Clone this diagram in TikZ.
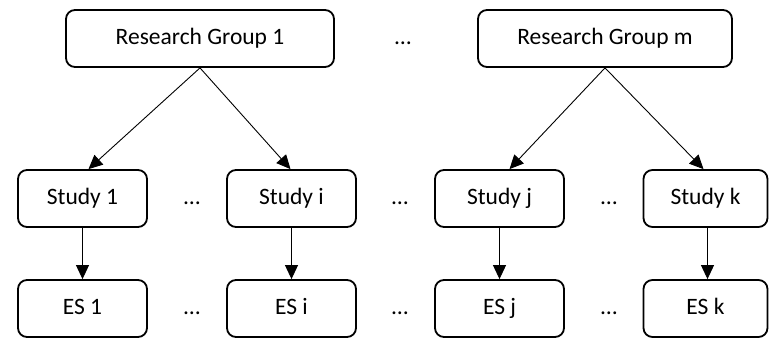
\documentclass[tikz,border=0pt]{standalone}
\usepackage{fontspec}
\setmainfont{Carlito}
\usetikzlibrary{arrows.meta,calc}
\begin{document}
\begin{tikzpicture}[x=1pt,y=-1pt,
  box/.style={draw=black,line width=1.8pt,rounded corners=9pt,fill=white,
    minimum height=57pt,inner sep=0pt,font=\fontsize{23.5}{28}\selectfont,
    text height=16pt,text depth=5pt},
  dots/.style={inner sep=0pt,font=\fontsize{23.5}{28}\selectfont,text height=16pt,text depth=5pt},
  arr/.style={line width=0.9pt,-{Triangle[length=14pt,width=13pt]}}]
\useasboundingbox (0,0) rectangle (769,338);
\node[box,minimum width=268pt] (rg1) at (200,38.5) {Research Group 1};
\node[box,minimum width=254pt] (rgm) at (605,38.5) {Research Group m};
\node[dots] (d0) at (403,38.5) {…};
\node[box,minimum width=129pt] (s1) at (82.5,198.5) {Study 1};
\node[box,minimum width=129pt] (si) at (291.5,198.5) {Study i};
\node[box,minimum width=129pt] (sj) at (499.5,198.5) {Study j};
\node[box,minimum width=124pt] (sk) at (705.5,198.5) {Study k};
\node[box,minimum width=129pt] (e1) at (82.5,308.5) {ES 1};
\node[box,minimum width=129pt] (ei) at (291.5,308.5) {ES i};
\node[box,minimum width=129pt] (ej) at (499.5,308.5) {ES j};
\node[box,minimum width=124pt] (ek) at (705.5,308.5) {ES k};
\node[dots] (d1) at (192,198.5) {…};
\node[dots] (d2) at (400,198.5) {…};
\node[dots] (d3) at (609,198.5) {…};
\node[dots] (d4) at (192,308.5) {…};
\node[dots] (d5) at (400,308.5) {…};
\node[dots] (d6) at (609,308.5) {…};
\draw[arr] (rg1.south) -- ($(s1.north)+(6,0)$);
\draw[arr] (rg1.south) -- ($(si.north)+(-1,0)$);
\draw[arr] (rgm.south) -- ($(sj.north)+(10,0)$);
\draw[arr] (rgm.south) -- ($(sk.north)+(-2,0)$);
\draw[arr] (s1.south) -- (e1.north);
\draw[arr] (si.south) -- (ei.north);
\draw[arr] (sj.south) -- (ej.north);
\draw[arr] ($(sk.south)+(2,0)$) -- ($(ek.north)+(2,0)$);
\end{tikzpicture}
\end{document}
